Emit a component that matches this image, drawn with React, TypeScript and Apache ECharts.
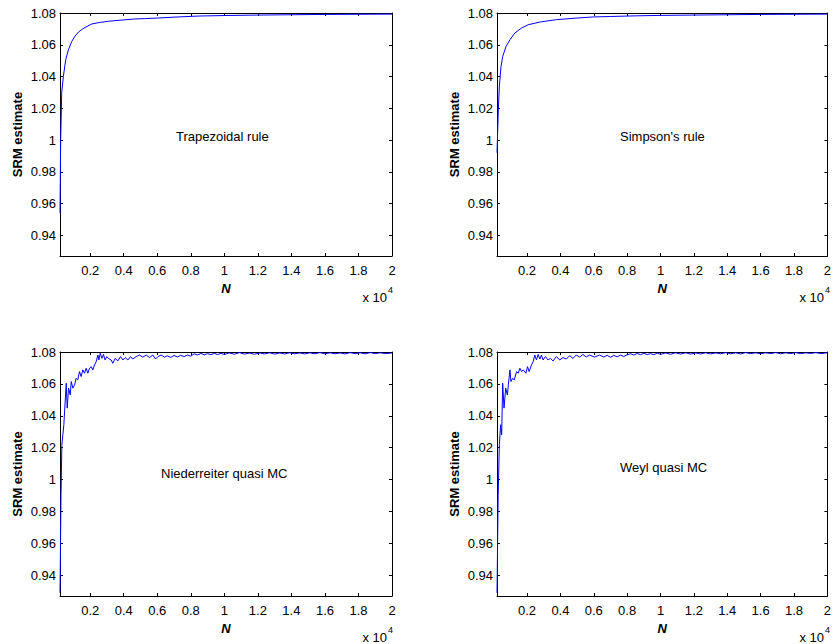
import React, { useEffect, useRef } from "react";
import * as echarts from "echarts";

const xTicks = [2000, 4000, 6000, 8000, 10000, 12000, 14000, 16000, 18000, 20000];
const yTicks = [0.94, 0.96, 0.98, 1, 1.02, 1.04, 1.06, 1.08];
const X_MIN = 200;
const X_MAX = 20000;
const Y_MIN = 0.927;
const Y_MAX = 1.08;

const panelNames = ["Trapezoidal rule", "Simpson's rule", "Niederreiter quasi MC", "Weyl quasi MC"];

const trapezoidal: [number, number][] = [
  [200, 0.954], [240, 1.0], [300, 1.0295], [400, 1.04], [540, 1.0505], [700, 1.0568], [900, 1.0621],
  [1100, 1.0655], [1300, 1.068], [1500, 1.0696], [1700, 1.0709], [2100, 1.0731], [2600, 1.0741],
  [3100, 1.0748], [3600, 1.0753], [4600, 1.0762], [5300, 1.0765], [6000, 1.0768], [7000, 1.0774],
  [8500, 1.0781], [10000, 1.0784], [12000, 1.0787], [14000, 1.0789], [16000, 1.0791], [18000, 1.0792],
  [20000, 1.0793],
];

const simpson: [number, number][] = [
  [200, 0.992], [280, 1.019], [340, 1.0337], [440, 1.0463], [540, 1.0526], [740, 1.0589], [980, 1.0632],
  [1270, 1.0674], [1670, 1.0705], [2070, 1.0726], [2770, 1.0743], [3760, 1.0758], [4950, 1.0768],
  [5940, 1.0775], [7000, 1.0778], [8500, 1.0782], [10000, 1.0785], [12000, 1.0787], [14000, 1.0789],
  [16000, 1.0791], [18000, 1.0792], [20000, 1.0793],
];

const niederreiter: [number, number][] = [
  [200, 0.929], [260, 0.99], [310, 1.0219], [370, 1.0281], [430, 1.0344], [570, 1.0604], [630, 1.0448],
  [710, 1.0573], [810, 1.0531], [870, 1.0615], [970, 1.0573], [1070, 1.0594], [1160, 1.0635],
  [1260, 1.0625], [1360, 1.0677], [1460, 1.0646], [1560, 1.0688], [1660, 1.0667], [1760, 1.0698],
  [1860, 1.0667], [1960, 1.0698], [2060, 1.0708], [2160, 1.0688], [2260, 1.0719], [2360, 1.074],
  [2460, 1.0781], [2520, 1.075], [2600, 1.0792], [2700, 1.076], [2790, 1.0785], [2890, 1.075],
  [2990, 1.0771], [3090, 1.076], [3250, 1.075], [3350, 1.0729], [3490, 1.076], [3650, 1.0744],
  [3810, 1.0771], [3950, 1.075], [4090, 1.0765], [4250, 1.075], [4410, 1.0771], [4540, 1.0756],
  [4740, 1.0771], [4940, 1.0781], [5140, 1.0768], [5340, 1.0781], [5540, 1.0765], [5740, 1.0781],
  [5900, 1.0756], [6040, 1.0771], [6230, 1.0781], [6430, 1.0768], [6600, 1.0776], [6800, 1.0766],
  [7000, 1.0778], [7200, 1.0769], [7400, 1.0779], [7600, 1.0771], [7800, 1.0781], [8000, 1.0774],
  [8200, 1.0789], [8400, 1.0781], [8600, 1.0791], [8800, 1.0782], [9000, 1.079], [9200, 1.0783],
  [9400, 1.0792], [9600, 1.0784], [9800, 1.0791], [10000, 1.0785], [10300, 1.0794], [10600, 1.0786],
  [10900, 1.0796], [11200, 1.0787], [11500, 1.0793], [11800, 1.0786], [12100, 1.0794], [12400, 1.0788],
  [12700, 1.0795], [13000, 1.0787], [13300, 1.0794], [13600, 1.0788], [13900, 1.0795], [14200, 1.0789],
  [14500, 1.0794], [14800, 1.0788], [15100, 1.0795], [15400, 1.0789], [15700, 1.0796], [16000, 1.0789],
  [16300, 1.0795], [16600, 1.0789], [16900, 1.0794], [17200, 1.0788], [17500, 1.0796], [17800, 1.079],
  [18100, 1.0795], [18400, 1.0789], [18700, 1.0796], [19000, 1.079], [19300, 1.0795], [19600, 1.079],
  [20000, 1.0794],
];

const weyl: [number, number][] = [
  [200, 0.929], [270, 0.99], [340, 1.0219], [420, 1.0344], [480, 1.0281], [540, 1.0604], [620, 1.0448],
  [720, 1.0573], [820, 1.0531], [880, 1.0594], [975, 1.0688], [1035, 1.0615], [1135, 1.0635],
  [1234, 1.0625], [1373, 1.0677], [1472, 1.0667], [1572, 1.0698], [1671, 1.0677], [1770, 1.0688],
  [1930, 1.0667], [2029, 1.0708], [2128, 1.0677], [2268, 1.0719], [2367, 1.074], [2466, 1.0781],
  [2566, 1.075], [2665, 1.0785], [2765, 1.0756], [2864, 1.0781], [2963, 1.075], [3103, 1.0771],
  [3261, 1.075], [3401, 1.076], [3560, 1.0744], [3759, 1.0771], [3957, 1.075], [4156, 1.0765],
  [4355, 1.0756], [4554, 1.0777], [4753, 1.076], [4952, 1.0781], [5150, 1.0768], [5349, 1.0785],
  [5548, 1.0769], [5747, 1.0781], [6045, 1.0768], [6343, 1.0781], [6600, 1.0769], [6800, 1.0779],
  [7000, 1.0767], [7200, 1.0778], [7400, 1.077], [7600, 1.078], [7800, 1.0772], [8000, 1.0782],
  [8200, 1.0789], [8400, 1.0781], [8600, 1.0791], [8800, 1.0783], [9000, 1.0792], [9200, 1.0784],
  [9400, 1.079], [9600, 1.0783], [9800, 1.0793], [10000, 1.0785], [10300, 1.0794], [10600, 1.0786],
  [10900, 1.0795], [11200, 1.0787], [11500, 1.0795], [11800, 1.0787], [12100, 1.0794], [12400, 1.0788],
  [12700, 1.0795], [13000, 1.0788], [13300, 1.0794], [13600, 1.0789], [13900, 1.0796], [14200, 1.0789],
  [14500, 1.0795], [14800, 1.0788], [15100, 1.0796], [15400, 1.079], [15700, 1.0795], [16000, 1.0789],
  [16300, 1.0795], [16600, 1.079], [16900, 1.0796], [17200, 1.0789], [17500, 1.0795], [17800, 1.079],
  [18100, 1.0796], [18400, 1.079], [18700, 1.0795], [19000, 1.0791], [19300, 1.0796], [19600, 1.079],
  [20000, 1.0795],
];

const seriesData = [trapezoidal, simpson, niederreiter, weyl];

// layout: [left, top, width, height]
const grids = [
  [60, 13, 332, 243],
  [497, 13, 332, 243],
  [60, 352, 332, 244],
  [497, 352, 332, 244],
];
// annotation positions: [x, y]
const notePos = [
  [176, 136],
  [620, 136],
  [161, 473],
  [620, 467],
];

const FONT = "'Liberation Sans', Arial, Helvetica, sans-serif";

export default function App() {
  const ref = useRef<HTMLDivElement>(null);

  useEffect(() => {
    if (!ref.current) return;
    const chart = echarts.init(ref.current, undefined, { renderer: "svg" });

    const axisLine = { show: true, onZero: false, lineStyle: { color: "#000", width: 1 } };
    const xAxes: any[] = [];
    const yAxes: any[] = [];
    const series: any[] = [];
    const graphic: any[] = [];

    grids.forEach((g, i) => {
      xAxes.push({
        type: "value",
        gridIndex: i,
        position: "bottom",
        min: X_MIN,
        max: X_MAX,
        axisLine,
        splitLine: { show: false },
        axisTick: { show: true, inside: true, length: 3, customValues: xTicks, lineStyle: { color: "#000" } },
        axisLabel: {
          show: true,
          customValues: xTicks,
          formatter: (v: number) => String(v / 10000),
          color: "#000",
          fontSize: 13,
          fontFamily: FONT,
          margin: 8,
        },
        name: "N",
        nameLocation: "middle",
        nameGap: 26,
        nameTextStyle: { color: "#000", fontSize: 13, fontWeight: "bold", fontStyle: "italic", fontFamily: FONT },
      });
      xAxes.push({
        type: "value",
        gridIndex: i,
        position: "top",
        min: X_MIN,
        max: X_MAX,
        axisLine,
        splitLine: { show: false },
        axisTick: { show: true, inside: true, length: 3, customValues: xTicks, lineStyle: { color: "#000" } },
        axisLabel: { show: false },
      });
      yAxes.push({
        type: "value",
        gridIndex: i,
        position: "left",
        min: Y_MIN,
        max: Y_MAX,
        axisLine,
        splitLine: { show: false },
        axisTick: { show: true, inside: true, length: 3, customValues: yTicks, lineStyle: { color: "#000" } },
        axisLabel: {
          show: true,
          customValues: yTicks,
          formatter: (v: number) => String(v),
          color: "#000",
          fontSize: 13,
          fontFamily: FONT,
          margin: 4,
        },
        name: "SRM estimate",
        nameLocation: "middle",
        nameGap: 36,
        nameTextStyle: { color: "#000", fontSize: 13, fontWeight: "bold", fontFamily: FONT },
      });
      yAxes.push({
        type: "value",
        gridIndex: i,
        position: "right",
        min: Y_MIN,
        max: Y_MAX,
        axisLine,
        splitLine: { show: false },
        axisTick: { show: true, inside: true, length: 3, customValues: yTicks, lineStyle: { color: "#000" } },
        axisLabel: { show: false },
      });
      series.push({
        type: "line",
        xAxisIndex: 2 * i,
        yAxisIndex: 2 * i,
        data: seriesData[i],
        showSymbol: false,
        symbol: "none",
        clip: true,
        lineStyle: { color: "#0000ff", width: 1 },
      });
      const right = g[0] + g[2];
      const bottom = g[1] + g[3];
      graphic.push({
        type: "text",
        x: notePos[i][0],
        y: notePos[i][1],
        style: {
          text: panelNames[i],
          fill: "#000",
          fontSize: 13,
          fontFamily: FONT,
          align: "left",
          verticalAlign: "middle",
          textAlign: "left",
          textVerticalAlign: "middle",
        },
      });
      graphic.push({
        type: "text",
        x: right - 5,
        y: bottom + 41,
        style: {
          text: "x 10",
          fill: "#000",
          fontSize: 13,
          fontFamily: FONT,
          align: "right",
          verticalAlign: "middle",
          textAlign: "right",
          textVerticalAlign: "middle",
        },
      });
      graphic.push({
        type: "text",
        x: right - 4,
        y: bottom + 34,
        style: {
          text: "4",
          fill: "#000",
          fontSize: 9,
          fontFamily: FONT,
          align: "left",
          verticalAlign: "middle",
          textAlign: "left",
          textVerticalAlign: "middle",
        },
      });
    });

    chart.setOption({
      animation: false,
      backgroundColor: "#fff",
      grid: grids.map((g) => ({ left: g[0], top: g[1], width: g[2], height: g[3], containLabel: false })),
      xAxis: xAxes,
      yAxis: yAxes,
      series,
      graphic,
    });

    return () => chart.dispose();
  }, []);

  return (
    <div
      ref={ref}
      style={{ position: "fixed", left: 0, top: 0, width: 834, height: 644, background: "#fff" }}
    />
  );
}
